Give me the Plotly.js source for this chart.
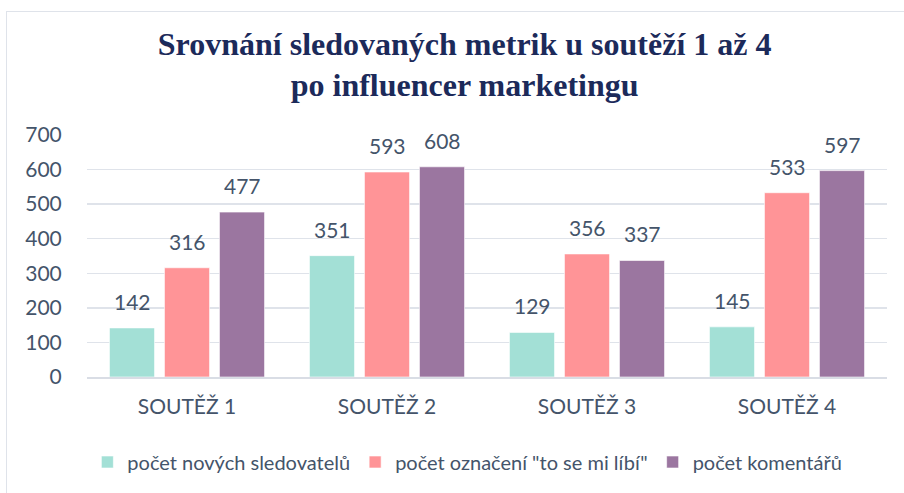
<!DOCTYPE html>
<html>
<head>
<meta charset="utf-8">
<script src="https://cdn.plot.ly/plotly-3.0.1.min.js"></script>
<style>
html,body{margin:0;padding:0;background:#fff;}
#wrap{position:relative;width:904px;height:493px;overflow:hidden;}
#frame{position:absolute;left:6px;top:11px;width:1000px;height:1000px;border:1.5px solid #dfe3ea;box-sizing:border-box;}
#chart{position:absolute;left:0;top:0;width:904px;height:493px;}
</style>
</head>
<body>
<div id="wrap"><div id="frame"></div><div id="chart"></div></div>
<script>
const categories = ["SOUTĚŽ 1", "SOUTĚŽ 2", "SOUTĚŽ 3", "SOUTĚŽ 4"];
const seriesNames = ["počet nových sledovatelů", "počet označení \"to se mi líbí\"", "počet komentářů"];
const followers = [142, 351, 129, 145];
const likes = [316, 593, 356, 533];
const comments = [477, 608, 337, 597];
const yTicks = [0, 100, 200, 300, 400, 500, 600, 700];
const colors = ["#a3e0d6", "#ff9497", "#9b76a0"];

const font = "Lato, 'Open Sans', sans-serif";
const textColor = "#44546a";
const values = [followers, likes, comments];
const bargap = 0.175, bargroupgap = 0.18;
const plotW = 800;

const traces = values.map((v, i) => ({
  type: "bar",
  name: seriesNames[i],
  x: categories,
  y: v,
  marker: {color: colors[i], line: {color: "rgba(255,255,255,0.6)", width: 1}},
  hoverinfo: "none"
}));

// value labels above bars, positioned at each bar's group slot
const slotPx = plotW / categories.length * (1 - bargap) / values.length;
const annotations = [];
values.forEach((v, i) => {
  v.forEach((val, j) => {
    annotations.push({
      x: categories[j], y: val, xref: "x", yref: "y",
      text: String(val), showarrow: false,
      xanchor: "center", yanchor: "bottom",
      xshift: (i - (values.length - 1) / 2) * slotPx,
      yshift: 12,
      font: {family: font, size: 21, color: textColor}
    });
  });
});

const layout = {
  width: 904, height: 493,
  paper_bgcolor: "rgba(0,0,0,0)",
  plot_bgcolor: "rgba(0,0,0,0)",
  margin: {l: 87, r: 17, t: 135, b: 116, autoexpand: false},
  title: {
    text: "Srovnání sledovaných metrik u soutěží 1 až 4<br>po influencer marketingu",
    font: {family: "'Liberation Serif', 'Times New Roman', serif", size: 32, color: "#1c2a5a", weight: "bold"},
    x: 0.514, xanchor: "center", y: 0.889, yanchor: "top"
  },
  bargap: bargap,
  bargroupgap: bargroupgap,
  barmode: "group",
  showlegend: true,
  annotations: annotations,
  legend: {
    orientation: "h", xref: "container", yref: "container",
    x: 0.517, xanchor: "center", y: 1 - 462 / 493, yanchor: "middle",
    font: {family: font, size: 20, color: textColor},
    itemwidth: 30, traceorder: "normal"
  },
  xaxis: {
    tickfont: {family: font, size: 21, color: textColor},
    showline: true, linecolor: "#d9dde5", linewidth: 1.5,
    ticks: "outside", ticklen: 10, tickcolor: "rgba(0,0,0,0)"
  },
  yaxis: {
    range: [0, 700], tickvals: yTicks, ticktext: yTicks.map(String),
    tickfont: {family: font, size: 21, color: textColor},
    gridcolor: "#dfe3ea", gridwidth: 1.5, zeroline: false,
    ticks: "outside", ticklen: 20, tickcolor: "rgba(0,0,0,0)",
    showline: false
  },
  font: {family: font, color: textColor}
};

Plotly.newPlot("chart", traces, layout, {staticPlot: true, displayModeBar: false});
</script>
</body>
</html>
